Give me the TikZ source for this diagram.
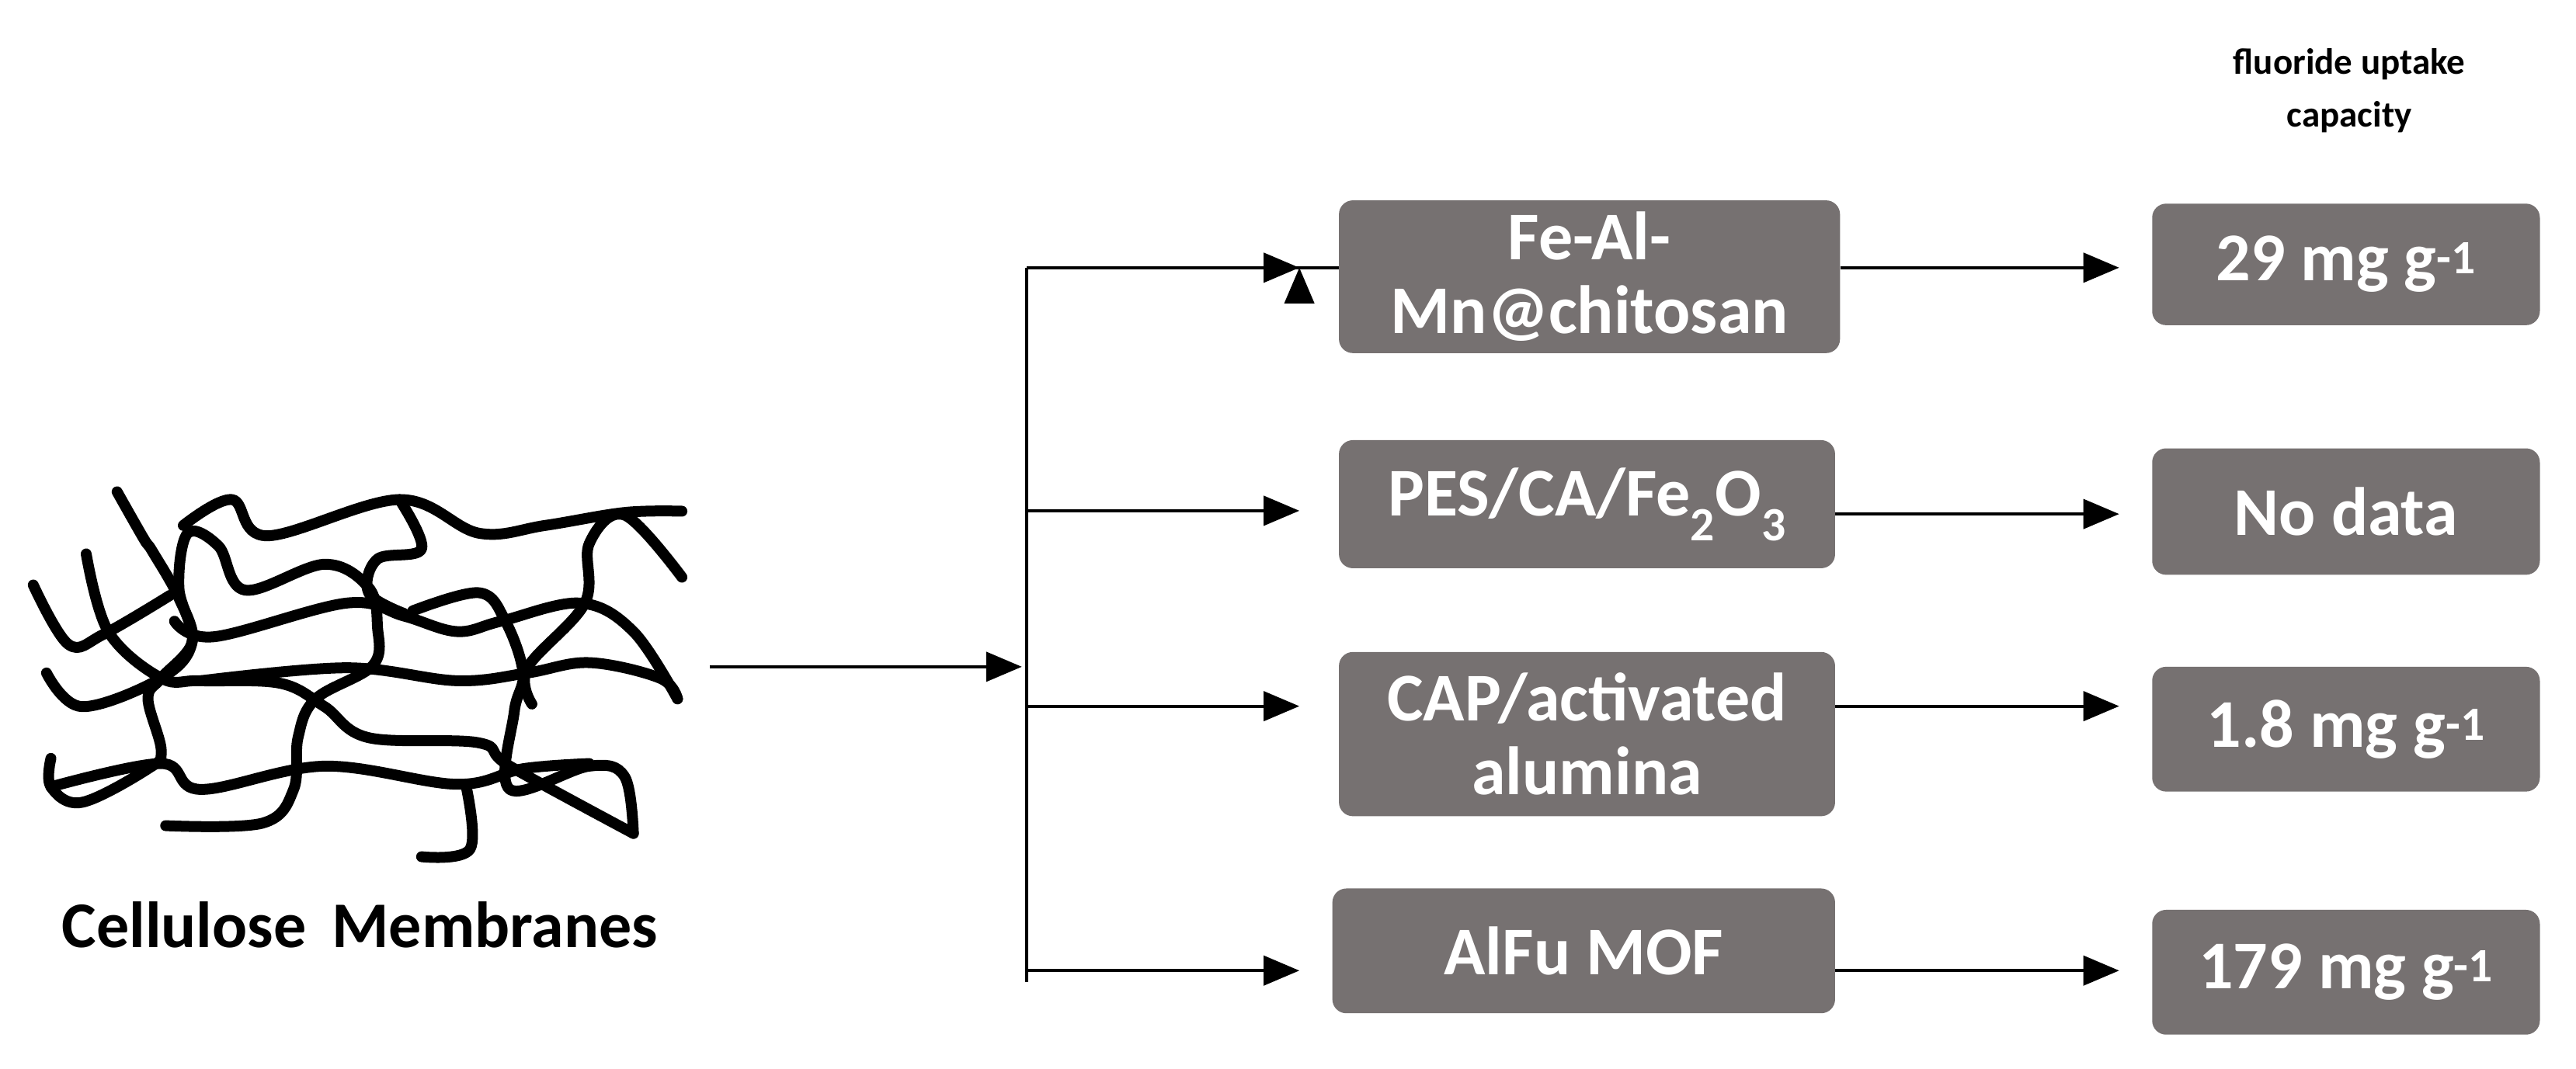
\documentclass[tikz,border=0pt]{standalone}
\usepackage{fontspec}
\setmainfont{Carlito}
\usetikzlibrary{arrows.meta}
\definecolor{boxgray}{HTML}{767171}
\begin{document}
\begin{tikzpicture}[x=2.115pt,y=-2.115pt,
  box/.style={draw=none,fill=boxgray,rounded corners=18pt,text=white,font=\fontsize{88}{95}\selectfont\bfseries,align=center,inner sep=0pt},
  arr/.style={line width=4pt,-{Triangle[length=46pt,width=38pt]}},
  ln/.style={line width=4pt},
  fib/.style={line width=14pt,line cap=round,line join=round}]
\useasboundingbox (0,0) rectangle (1568,650.6);
% fibres
\begin{scope}[shift={(9.5,283.7)},xscale=0.2686,yscale=0.1576]
\draw[fib] plot[smooth,tension=0.6] coordinates {(380,230)(490,130)(570,270)(870,130)(1050,260)(1200,230)(1380,180)(1510,175)};
\draw[fib] plot[smooth,tension=0.6] coordinates {(230,100)(290,280)(310,330)(370,510)(400,680)(330,820)(300,900)(330,1100)(300,1170)(150,1300)(80,1240)(80,1130)};
\draw[fib] plot[smooth,tension=0.6] coordinates {(40,460)(120,690)(200,650)(350,500)};
\draw[fib] plot[smooth,tension=0.6] coordinates {(160,340)(210,640)(330,820)(420,830)(600,840)(700,930)(800,1050)(1050,1070)(1120,1160)(1400,1420)};
\draw[fib] plot[smooth,tension=0.6] coordinates {(70,800)(150,930)(330,820)(400,680)(370,470)(390,260)(460,310)(520,480)(700,380)(800,470)(820,620)(810,770)(680,900)(640,1050)(630,1250)(560,1380)(340,1390)};
\draw[fib] plot[smooth,tension=0.6] coordinates {(360,600)(450,660)(750,530)(880,580)(1000,640)(1100,600)(1280,530)(1400,640)(1500,900)};
\draw[fib] plot[smooth,tension=0.6] coordinates {(420,830)(750,780)(1000,830)(1160,800)(1300,760)(1460,820)(1500,900)};
\draw[fib] plot[smooth,tension=0.6] coordinates {(1510,430)(1380,190)(1300,300)(1290,530)(1160,780)(1170,920)};
\draw[fib] plot[smooth,tension=0.6] coordinates {(870,130)(920,320)(820,360)(800,490)(880,570)};
\draw[fib] plot[smooth,tension=0.6] coordinates {(900,560)(1050,490)(1110,600)(1150,800)(1130,950)(1120,1250)(1300,1160)(1380,1200)(1400,1420)};
\draw[fib] plot[smooth,tension=0.6] coordinates {(80,1240)(330,1150)(420,1250)(700,1160)(1000,1230)(1150,1170)(1300,1150)};
\draw[fib] plot[smooth,tension=0.6] coordinates {(1020,1230)(1030,1480)(920,1510)};
\end{scope}
\node[font=\fontsize{84}{90}\selectfont\bfseries] (lab) at (219,563) {Cellulose\, Membranes};
\node[font=\fontsize{47}{68}\selectfont\bfseries,align=center] (head) at (1430,55) {fluoride uptake\\capacity};
% middle boxes
\node[box,minimum width=305*2.115pt,minimum height=93*2.115pt] (b1) at (967.5,168.5) {Fe-Al-\\Mn@chitosan};
\node[box,minimum width=302*2.115pt,minimum height=78*2.115pt] (b2) at (966,307) {PES/CA/Fe\textsubscript{2}O\textsubscript{3}};
\node[box,minimum width=302*2.115pt,minimum height=100*2.115pt] (b3) at (966,447) {CAP/activated\\alumina};
\node[box,minimum width=306*2.115pt,minimum height=76*2.115pt] (b4) at (964,579) {AlFu MOF};
% right boxes
\node[box,minimum width=236*2.115pt,minimum height=74*2.115pt] (r1) at (1428,161) {29 mg g\textsuperscript{-1}};
\node[box,minimum width=236*2.115pt,minimum height=77*2.115pt] (r2) at (1428,311.5) {No data};
\node[box,minimum width=236*2.115pt,minimum height=76*2.115pt] (r3) at (1428,444) {1.8 mg g\textsuperscript{-1}};
\node[box,minimum width=236*2.115pt,minimum height=76*2.115pt] (r4) at (1428,592) {179 mg g\textsuperscript{-1}};
% connectors
\coordinate (s) at (432,406);
\coordinate (vt) at (625,163);
\coordinate (vb) at (625,598);
\coordinate (vm) at (622,406);
\draw[ln] (vt) -- (vb);
\draw[arr] (s) -- (vm);
\coordinate (t1) at (625,163); \coordinate (t2) at (625,311); \coordinate (t3) at (625,430); \coordinate (t4) at (625,591);
\draw[arr] (t1) -- (t1 -| b1.west) ++(-24,0);
\draw[arr] (t1) -- ([xshift=-24*2.115pt]t1 -| b1.west);
\draw[arr] (t2) -- ([xshift=-24*2.115pt]t2 -| b2.west);
\draw[arr] (t3) -- ([xshift=-24*2.115pt]t3 -| b3.west);
\draw[arr] (t4) -- ([xshift=-20*2.115pt]t4 -| b4.west);
\draw[arr] (b1.east |- t1) -- ([xshift=-20*2.115pt]t1 -| r1.west);
\draw[arr] (b2.east |- 0,313) -- ([xshift=-20*2.115pt]r2.west |- 0,313);
\draw[arr] (b3.east |- t3) -- ([xshift=-20*2.115pt]t3 -| r3.west);
\draw[arr] (b4.east |- t4) -- ([xshift=-20*2.115pt]t4 -| r4.west);
\end{tikzpicture}
\end{document}
